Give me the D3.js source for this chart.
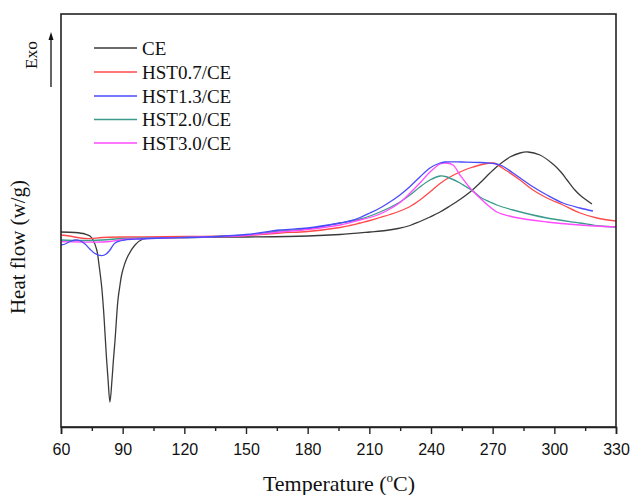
<!DOCTYPE html>
<html>
<head>
<meta charset="utf-8">
<script src="https://cdn.jsdelivr.net/npm/d3@7"></script>
<style>
  html, body { margin: 0; padding: 0; background: #fff; }
  svg { display: block; }
</style>
</head>
<body>
<svg id="chart" width="632" height="495"></svg>
<script>
// ---- Data (temperature °C, heat flow in arbitrary units, 0 = baseline) ----
const seriesNames = ["CE", "HST0.7/CE", "HST1.3/CE", "HST2.0/CE", "HST3.0/CE"];
const seriesColors = ["#3a3a3a", "#ff4a4a", "#4a4aff", "#3a9a8c", "#ff4aff"];

const ceT = [60, 66.8, 71.7, 74.1, 75.6, 77.4, 78.5, 79.8, 80.7, 81.4, 82.1, 82.9, 83.8, 84.8, 85.5, 86.3, 87.7, 88.7, 89.7, 92.1, 96, 99.9, 108, 120, 150, 180, 195.7, 210.3, 218, 224, 229.8, 234.6, 239.5, 244.4, 249.2, 254.1, 259, 263.8, 268.7, 273.6, 278.4, 283.3, 287.2, 293, 299.3, 303.2, 306.2, 310, 313, 318.3];
const ceV = [0.6, 0.55, 0.4, 0.2, -0.2, -1.2, -2.7, -4.9, -7.2, -9.5, -11.9, -14.2, -16.4, -14.2, -12.2, -10.2, -6.2, -4.7, -3.5, -2.0, -0.7, -0.1, 0, 0.05, 0.1, 0.2, 0.35, 0.6, 0.75, 0.95, 1.25, 1.65, 2.1, 2.6, 3.2, 3.85, 4.6, 5.5, 6.5, 7.4, 8.1, 8.5, 8.6, 8.3, 7.4, 6.6, 5.8, 4.8, 4.2, 3.4];

const h07T = [60, 64, 68, 72, 75, 80, 90, 100, 120, 150, 166.5, 180, 195.7, 200.6, 205.5, 210.3, 215.2, 220, 224.9, 229.8, 234.6, 239.5, 244.4, 249.2, 254.1, 258.9, 263.8, 268.7, 270.6, 277, 283.3, 289.6, 296.4, 304.2, 312.5, 320.7, 330];
const h07V = [0.3, 0.2, 0.05, -0.05, -0.05, 0.05, 0.1, 0.1, 0.15, 0.25, 0.5, 0.65, 1.05, 1.25, 1.5, 1.75, 2.05, 2.35, 2.7, 3.15, 3.8, 4.6, 5.45, 6.1, 6.6, 7.0, 7.3, 7.5, 7.5, 6.7, 5.8, 4.8, 4.0, 3.3, 2.5, 2.0, 1.7];

const h13T = [60, 62, 64.4, 67, 69, 71.7, 74, 76.5, 79.8, 82, 83.8, 86.3, 91.1, 98.4, 110, 130, 150, 166.5, 180, 195.7, 200.6, 205.5, 210.3, 215.2, 220, 224.9, 229.8, 234.6, 239.5, 244.4, 246.8, 255, 264, 273.6, 279.9, 288.2, 296.4, 304.2, 312.5, 318.8];
const h13V = [-0.7, -0.6, -0.35, -0.2, -0.25, -0.6, -1.1, -1.55, -1.77, -1.6, -1.2, -0.5, -0.2, -0.1, 0, 0.1, 0.35, 0.8, 1.0, 1.5, 1.7, 2.05, 2.5, 3.0, 3.6, 4.3, 5.15, 6.1, 7.0, 7.5, 7.6, 7.6, 7.55, 7.3, 6.5, 5.3, 4.3, 3.5, 3.0, 2.7];

const h20T = [60, 70, 80, 90, 100, 130, 150, 166.5, 180, 195.7, 205.5, 210.3, 215.2, 220, 224.9, 229.8, 234.6, 239.5, 244.4, 247, 254.1, 256.5, 261, 263.8, 268.7, 272, 279.9, 296.4, 312.5, 322, 330];
const h20V = [-0.2, -0.25, -0.2, -0.05, 0, 0.1, 0.3, 0.7, 0.9, 1.5, 1.9, 2.2, 2.6, 3.05, 3.6, 4.3, 5.1, 5.8, 6.2, 6.15, 5.5, 5.2, 4.6, 4.1, 3.6, 3.3, 2.8, 2.0, 1.5, 1.2, 1.1];

const h30T = [60, 70, 80, 84, 90, 100, 130, 150, 166.5, 180, 195.7, 205.5, 210.3, 215.2, 220, 224.9, 229.8, 234.6, 239.5, 244.4, 246.8, 250.7, 254.1, 259, 263.8, 268.7, 272, 279.9, 296.4, 312.5, 330];
const h30V = [-0.37, -0.4, -0.4, -0.35, -0.15, -0.05, 0.1, 0.25, 0.6, 0.85, 1.3, 1.8, 2.05, 2.4, 2.9, 3.55, 4.5, 5.5, 6.6, 7.4, 7.5, 7.3, 6.3, 5.0, 4.0, 3.1, 2.6, 2.1, 1.6, 1.3, 1.1];

const seriesT = [ceT, h07T, h13T, h20T, h30T];
const seriesV = [ceV, h07V, h13V, h20V, h30V];

const xTicks = [60, 90, 120, 150, 180, 210, 240, 270, 300, 330];
const xMinorTicks = [75, 105, 135, 165, 195, 225, 255, 285, 315];

// ---- Layout ----
const svg = d3.select("#chart");
const plotL = 61, plotR = 616, plotT = 14, plotB = 427;

const x = d3.scaleLinear().domain([60, 330]).range([plotL, plotR]);
const y = d3.scaleLinear().domain([-18.9, 22.4]).range([plotB, plotT]);

// curves
const line = d3.line().x(d => x(d[0])).y(d => y(d[1])).curve(d3.curveCatmullRom.alpha(0.5));
const drawOrder = [0, 1, 3, 4, 2];
drawOrder.forEach(i => {
  const pts = seriesT[i].map((t, k) => [t, seriesV[i][k]]);
  svg.append("path")
    .attr("d", line(pts))
    .attr("fill", "none")
    .attr("stroke", seriesColors[i])
    .attr("stroke-width", 1.3)
    .attr("stroke-linejoin", "round");
});

// frame
svg.append("rect")
  .attr("x", plotL).attr("y", plotT)
  .attr("width", plotR - plotL).attr("height", plotB - plotT)
  .attr("fill", "none").attr("stroke", "#222").attr("stroke-width", 1.6);

// x axis
const xAxis = d3.axisBottom(x).tickValues(xTicks).tickSize(7).tickPadding(10).tickFormat(d3.format("d"));
const gx = svg.append("g").attr("transform", `translate(0,${plotB})`).call(xAxis);
gx.select(".domain").attr("stroke", "#222").attr("stroke-width", 1.6);
gx.selectAll(".tick line").attr("stroke", "#222").attr("stroke-width", 1.4);
gx.selectAll(".tick text")
  .attr("font-family", "Liberation Sans, Arial, sans-serif")
  .attr("font-size", 16).attr("fill", "#111");
const xMinor = d3.axisBottom(x).tickValues(xMinorTicks).tickSize(4).tickFormat("");
const gxm = svg.append("g").attr("transform", `translate(0,${plotB})`).call(xMinor);
gxm.select(".domain").remove();
gxm.selectAll(".tick line").attr("stroke", "#222").attr("stroke-width", 1.4);

// x title
const xt = svg.append("text")
  .attr("x", 339).attr("y", 491)
  .attr("text-anchor", "middle")
  .attr("font-family", "Liberation Serif, Times New Roman, serif")
  .attr("font-size", 22).attr("fill", "#111");
xt.append("tspan").text("Temperature (");
xt.append("tspan").attr("font-size", 13).attr("dy", -9).text("o");
xt.append("tspan").attr("dy", 9).text("C)");

// y title
svg.append("text")
  .attr("transform", "translate(25,247) rotate(-90)")
  .attr("text-anchor", "middle")
  .attr("font-family", "Liberation Serif, Times New Roman, serif")
  .attr("font-size", 21).attr("fill", "#111")
  .text("Heat flow (w/g)");

// Exo + arrow
svg.append("text")
  .attr("transform", "translate(37,55) rotate(-90)")
  .attr("text-anchor", "middle")
  .attr("font-family", "Liberation Serif, Times New Roman, serif")
  .attr("font-size", 17.5).attr("fill", "#111")
  .text("Exo");
svg.append("line")
  .attr("x1", 51).attr("x2", 51).attr("y1", 87).attr("y2", 38)
  .attr("stroke", "#111").attr("stroke-width", 1.3);
svg.append("path")
  .attr("d", "M51,32 L48.5,40 L53.5,40 Z")
  .attr("fill", "#111");

// legend
const legY = [48, 72, 96, 119.5, 143];
const leg = svg.append("g");
seriesNames.forEach((name, i) => {
  leg.append("line")
    .attr("x1", 94).attr("x2", 137)
    .attr("y1", legY[i]).attr("y2", legY[i])
    .attr("stroke", seriesColors[i]).attr("stroke-width", 1.3);
  leg.append("text")
    .attr("x", 142).attr("y", legY[i] + 6.5)
    .attr("font-family", "Liberation Serif, Times New Roman, serif")
    .attr("font-size", 19).attr("fill", "#111")
    .text(name);
});
</script>
</body>
</html>
